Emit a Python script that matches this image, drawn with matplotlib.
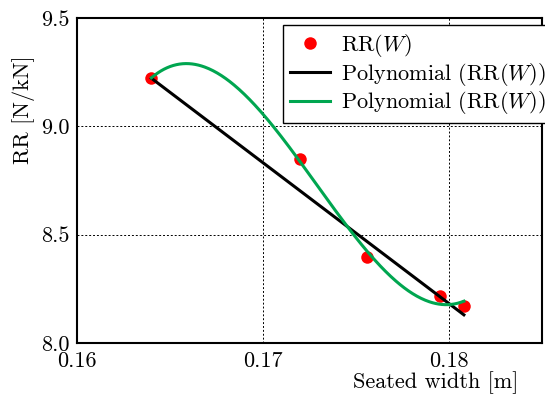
import numpy as np
import matplotlib
matplotlib.use("Agg")
import matplotlib.pyplot as plt
from matplotlib.ticker import MultipleLocator, FormatStrFormatter

plt.rcParams["font.family"] = "serif"
plt.rcParams["font.serif"] = ["cmr10"]
plt.rcParams["mathtext.fontset"] = "cm"
plt.rcParams["axes.unicode_minus"] = False
plt.rcParams["axes.formatter.use_mathtext"] = True

# seated width [m] and rolling resistance [N/kN]
width = [0.1640, 0.1720, 0.1756, 0.1795, 0.1808]
rr = [9.223, 8.848, 8.396, 8.218, 8.170]

# linear trend line, ends
lin_x = [0.1640, 0.1808]
lin_y = [9.222, 8.130]

green = "#00a650"

# cubic trend line through the measured points
cub = np.polyfit(width, rr, 3)
xs = np.linspace(min(width), max(width), 300)

fig = plt.figure(figsize=(5.45, 3.96), dpi=100)
ax = fig.add_axes([77 / 545, 1 - 343 / 396, 465 / 545, 325 / 396])

ax.plot(width, rr, "o", color="red", markersize=9, markeredgewidth=0, label=r"RR$(W)$", zorder=3)
ax.plot(lin_x, lin_y, color="black", lw=2.2, label=r"Polynomial (RR$(W)$)", zorder=4)
ax.plot(xs, np.polyval(cub, xs), color=green, lw=2.2, label=r"Polynomial (RR$(W)$)", zorder=5)

ax.set_xlim(0.16, 0.185)
ax.set_ylim(8.0, 9.5)
ax.xaxis.set_major_locator(MultipleLocator(0.01))
ax.yaxis.set_major_locator(MultipleLocator(0.5))
ax.xaxis.set_major_formatter(FormatStrFormatter("%.2f"))
ax.yaxis.set_major_formatter(FormatStrFormatter("%.1f"))
ax.tick_params(length=0, labelsize=16, pad=5)
ax.tick_params(axis="x", pad=6)
ax.grid(True, color="black", linestyle=(0, (2, 2)), lw=0.7)
for s in ax.spines.values():
    s.set_linewidth(1.5)

ax.set_xlabel("Seated width [m]", fontsize=16)
ax.set_ylabel("RR [N/kN]", fontsize=16)
ax.xaxis.set_label_coords(0.772, -0.088)
ax.yaxis.set_label_coords(-0.09, 0.717)

leg = ax.legend(loc="upper left", bbox_to_anchor=(0.443, 0.978), borderaxespad=0,
                fontsize=16, numpoints=1, fancybox=False, framealpha=1,
                handlelength=1.8, borderpad=0.3, labelspacing=0.08, handletextpad=0.5)
leg.get_frame().set_edgecolor("black")
leg.get_frame().set_linewidth(1.0)

fig.savefig("out.png", dpi=100)
